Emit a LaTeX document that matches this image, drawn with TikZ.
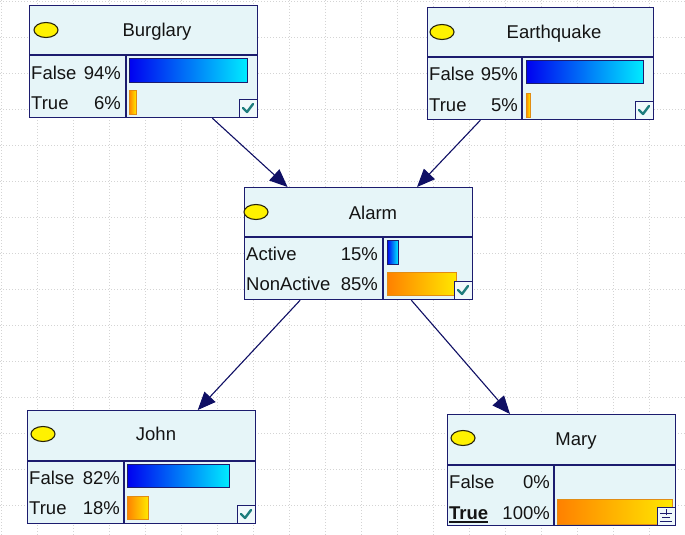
\documentclass[tikz,border=0pt]{standalone}
\usepackage{fontspec}
\setmainfont{Liberation Sans}
\usetikzlibrary{arrows.meta,shapes.geometric,calc}

\definecolor{navy}{RGB}{28,28,110}
\definecolor{linknavy}{RGB}{15,15,100}
\definecolor{pale}{RGB}{230,245,248}
\definecolor{gridgray}{RGB}{212,212,212}
\definecolor{barblue}{RGB}{0,0,240}
\definecolor{barcyan}{RGB}{0,235,255}
\definecolor{barorange}{RGB}{255,128,0}
\definecolor{baryellow}{RGB}{255,232,0}
\definecolor{barrim}{RGB}{225,140,20}
\definecolor{tick}{RGB}{30,125,125}
\definecolor{dotrim}{RGB}{40,35,10}
\definecolor{ink}{RGB}{20,20,20}

% bold word with a heavy underline
\newcommand\boldul[1]{\setbox0\hbox{\bfseries #1}\rlap{\vrule width\wd0 height -1.8pt depth 3.6pt}\box0}

\tikzset{
  gridline/.style={gridgray, line width=0.8pt, dash pattern=on 1.2pt off 1.8pt},
  box/.style={draw=navy, fill=pale, line width=1.2pt, inner sep=0pt, anchor=north west},
  rim/.style={navy, line width=1.2pt},
  dot/.style={ellipse, draw=dotrim, fill=yellow, line width=1.1pt, minimum width=24pt, minimum height=15pt, inner sep=0pt},
  title/.style={anchor=base, inner sep=0pt, text=ink},
  lbl/.style={anchor=base west, inner sep=0pt, text=ink},
  pct/.style={anchor=base east, inner sep=0pt, text=ink},
  bluebar/.style={left color=barblue, right color=barcyan, draw=navy, line width=1pt},
  orangebar/.style={left color=barorange, right color=baryellow, draw=barrim, line width=1pt},
  chk/.style={draw=navy, fill=pale!60!white, line width=1.2pt, anchor=north west, minimum width=18pt, minimum height=18pt, inner sep=0pt},
  tickmark/.style={tick, line width=2.4pt, line cap=round, line join=round},
  link/.style={linknavy, line width=1.1pt, -{Triangle[length=18pt,width=15pt]}},
}

\begin{document}
\begin{tikzpicture}[x=1pt, y=-1pt, font=\fontsize{18.5}{20}\selectfont]
\useasboundingbox (0,0) rectangle (685,535);
\fill[white] (0,0) rectangle (685,535);

% dotted background grid
\foreach \gx in {1,37,...,685} \draw[gridline] (\gx,0) -- (\gx,535);
\foreach \gy in {1,37,...,535} \draw[gridline] (0,\gy) -- (685,\gy);

% ---------- Burglary ----------
\node[box, minimum width=228, minimum height=112] (burglary) at (29,5) {};
\draw[rim] (29,55) -- (257,55);
\draw[rim] (126,55) -- (126,117);
\node[dot] (burglary-dot) at (46,30) {};
\node[title] (burglary-title) at (157,37) {Burglary};
\node[lbl] (burglary-l1) at (31,79) {False};
\node[pct] (burglary-p1) at (121,79) {94\%};
\node[lbl] (burglary-l2) at (31,109) {True};
\node[pct] (burglary-p2) at (121,109) {6\%};
\draw[bluebar] (129,59) rectangle (247,82);
\draw[orangebar] (129,90) rectangle (136,114);
\node[chk] (burglary-chk) at (239,99) {};
\draw[tickmark] ($(burglary-chk.north west)+(4,9)$) -- ++(4,4) -- ++(6,-8);

% ---------- Earthquake ----------
\node[box, minimum width=226, minimum height=112] (quake) at (427,7) {};
\draw[rim] (427,57) -- (653,57);
\draw[rim] (522,57) -- (522,119);
\node[dot] (quake-dot) at (442,32) {};
\node[title] (quake-title) at (554,39) {Earthquake};
\node[lbl] (quake-l1) at (429,81) {False};
\node[pct] (quake-p1) at (518,81) {95\%};
\node[lbl] (quake-l2) at (429,111) {True};
\node[pct] (quake-p2) at (518,111) {5\%};
\draw[bluebar] (526,61) rectangle (643,83);
\draw[orangebar] (526,93) rectangle (530,117);
\node[chk] (quake-chk) at (635,101) {};
\draw[tickmark] ($(quake-chk.north west)+(4,9)$) -- ++(4,4) -- ++(6,-8);

% ---------- Alarm ----------
\node[box, minimum width=228, minimum height=112] (alarm) at (244,187) {};
\draw[rim] (244,237) -- (472,237);
\draw[rim] (383,237) -- (383,299);
\node[dot] (alarm-dot) at (256,212) {};
\node[title] (alarm-title) at (373,219) {Alarm};
\node[lbl] (alarm-l1) at (246,260) {Active};
\node[pct] (alarm-p1) at (378,260) {15\%};
\node[lbl] (alarm-l2) at (246,290.5) {NonActive};
\node[pct] (alarm-p2) at (378,290.5) {85\%};
\draw[bluebar] (387,240) rectangle (398,264);
\draw[orangebar] (387,272) rectangle (456,295);
\node[chk] (alarm-chk) at (454,281) {};
\draw[tickmark] ($(alarm-chk.north west)+(4,9)$) -- ++(4,4) -- ++(6,-8);

% ---------- John ----------
\node[box, minimum width=228, minimum height=113] (john) at (27,410) {};
\draw[rim] (27,461) -- (255,461);
\draw[rim] (124,461) -- (124,523);
\node[dot] (john-dot) at (43,434) {};
\node[title] (john-title) at (156,440) {John};
\node[lbl] (john-l1) at (29,484) {False};
\node[pct] (john-p1) at (120,484) {82\%};
\node[lbl] (john-l2) at (29,514) {True};
\node[pct] (john-p2) at (120,514) {18\%};
\draw[bluebar] (127,464) rectangle (229,487);
\draw[orangebar] (127,496) rectangle (148,519);
\node[chk] (john-chk) at (237,505) {};
\draw[tickmark] ($(john-chk.north west)+(4,9)$) -- ++(4,4) -- ++(6,-8);

% ---------- Mary ----------
\node[box, minimum width=228, minimum height=111] (mary) at (447,414) {};
\draw[rim] (447,465) -- (675,465);
\draw[rim] (554,465) -- (554,525);
\node[dot] (mary-dot) at (463,438) {};
\node[title] (mary-title) at (576,445) {Mary};
\node[lbl] (mary-l1) at (449,488) {False};
\node[pct] (mary-p1) at (550,488) {0\%};
\node[lbl] (mary-l2) at (449,519) {\boldul{True}};
\node[pct] (mary-p2) at (550,519) {100\%};
\draw[orangebar] (557,499) rectangle (672,524);
\node[chk] (mary-icon) at (657,507) {};
\draw[navy, line width=1pt] (666,509) -- (666,515);
\draw[navy, line width=1pt] (660,513) -- (672,513);
\draw[navy, line width=1pt] (662,517) -- (670,517);
\draw[navy, line width=1pt] (660,521) -- (672,521);

% ---------- dependencies ----------
\draw[link] ($(burglary.south west)!0.80!(burglary.south east)$) -- ($(alarm.north west)!0.19!(alarm.north east)$);
\draw[link] ($(quake.south west)!0.235!(quake.south east)$) -- ($(alarm.north west)!0.755!(alarm.north east)$);
\draw[link] ($(alarm.south west)!0.245!(alarm.south east)$) -- ($(john.north west)!0.745!(john.north east)$);
\draw[link] ($(alarm.south west)!0.73!(alarm.south east)$) -- ($(mary.north west)!0.275!(mary.north east)$);
\end{tikzpicture}
\end{document}
